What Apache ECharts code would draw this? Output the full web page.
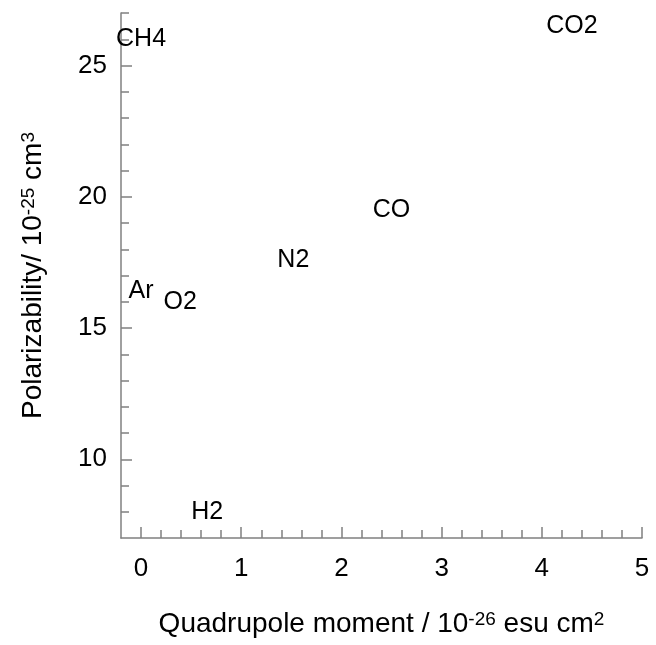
<!DOCTYPE html>
<html>
<head>
<meta charset="utf-8">
<script src="https://cdn.jsdelivr.net/npm/echarts@6/dist/echarts.min.js"></script>
<style>html,body{margin:0;padding:0;background:#fff}#c{width:656px;height:645px}</style>
</head>
<body>
<div id="c"></div>
<script>
// Data
const gases = ['CH4', 'CO2', 'CO', 'N2', 'Ar', 'O2', 'H2'];
const quadrupole = [0, 4.3, 2.5, 1.52, 0, 0.39, 0.66];
const polarizability = [26.0, 26.5, 19.5, 17.6, 16.4, 16.0, 8.0];
// Ticks
const xMajorTicks = [0, 1, 2, 3, 4, 5];
const xMinorTicks = [0.2,0.4,0.6,0.8,1.2,1.4,1.6,1.8,2.2,2.4,2.6,2.8,3.2,3.4,3.6,3.8,4.2,4.4,4.6,4.8];
const yMajorTicks = [10, 15, 20, 25];
const yMinorTicks = [8, 9, 11, 12, 13, 14, 16, 17, 18, 19, 21, 22, 23, 24, 26, 27];

const FONT = 'Liberation Sans';
const AXIS_COLOR = '#808080';

const chart = echarts.init(document.getElementById('c'), null, {renderer: 'canvas'});
const data = gases.map((g, i) => ({name: g, value: [quadrupole[i], polarizability[i]]}));

const richTitle = {
  n: {fontSize: 28, fontFamily: FONT, color: '#000'},
  s: {fontSize: 19, fontFamily: FONT, color: '#000', verticalAlign: 'top'}
};

chart.setOption({
  animation: false,
  backgroundColor: '#fff',
  grid: {left: 121, right: 14, top: 13, bottom: 107, containLabel: false},
  xAxis: [{
    type: 'value', min: -0.2, max: 5,
    name: '{n|Quadrupole moment / 10}{s|-26}{n| esu cm}{s|2}',
    nameLocation: 'middle', nameGap: 72,
    nameTextStyle: {rich: richTitle},
    axisLine: {show: true, onZero: false, lineStyle: {color: AXIS_COLOR, width: 1.5}},
    axisTick: {show: true, inside: true, length: 11, customValues: xMajorTicks, lineStyle: {color: AXIS_COLOR, width: 1.5}},
    axisLabel: {show: true, customValues: xMajorTicks, margin: 18, fontSize: 26, fontFamily: FONT, color: '#000'},
    splitLine: {show: false}
  }, {
    type: 'value', min: -0.2, max: 5, position: 'bottom',
    axisLine: {show: false, onZero: false},
    axisTick: {show: true, inside: true, length: 8, customValues: xMinorTicks, lineStyle: {color: AXIS_COLOR, width: 1.5}},
    axisLabel: {show: false},
    splitLine: {show: false}
  }],
  yAxis: [{
    type: 'value', min: 7, max: 27,
    name: '{n|Polarizability/ 10}{s|-25}{n| cm}{s|3}',
    nameLocation: 'middle', nameGap: 74, nameRotate: 90,
    nameTextStyle: {rich: richTitle},
    axisLine: {show: true, onZero: false, lineStyle: {color: AXIS_COLOR, width: 1.5}},
    axisTick: {show: true, inside: true, length: 11, customValues: yMajorTicks, lineStyle: {color: AXIS_COLOR, width: 1.5}},
    axisLabel: {show: true, customValues: yMajorTicks, margin: 14, fontSize: 26, fontFamily: FONT, color: '#000'},
    splitLine: {show: false}
  }, {
    type: 'value', min: 7, max: 27, position: 'left',
    axisLine: {show: false, onZero: false},
    axisTick: {show: true, inside: true, length: 8, customValues: yMinorTicks, lineStyle: {color: AXIS_COLOR, width: 1.5}},
    axisLabel: {show: false},
    splitLine: {show: false}
  }],
  series: [{
    type: 'scatter',
    data: data,
    symbol: 'circle', symbolSize: 1,
    itemStyle: {color: 'rgba(0,0,0,0)'},
    label: {show: true, position: 'inside', formatter: '{b}', fontSize: 25, fontFamily: FONT,
            color: '#000', opacity: 1, textBorderWidth: 0, textBorderColor: 'transparent'},
    emphasis: {disabled: true}
  }]
});
</script>
</body>
</html>
